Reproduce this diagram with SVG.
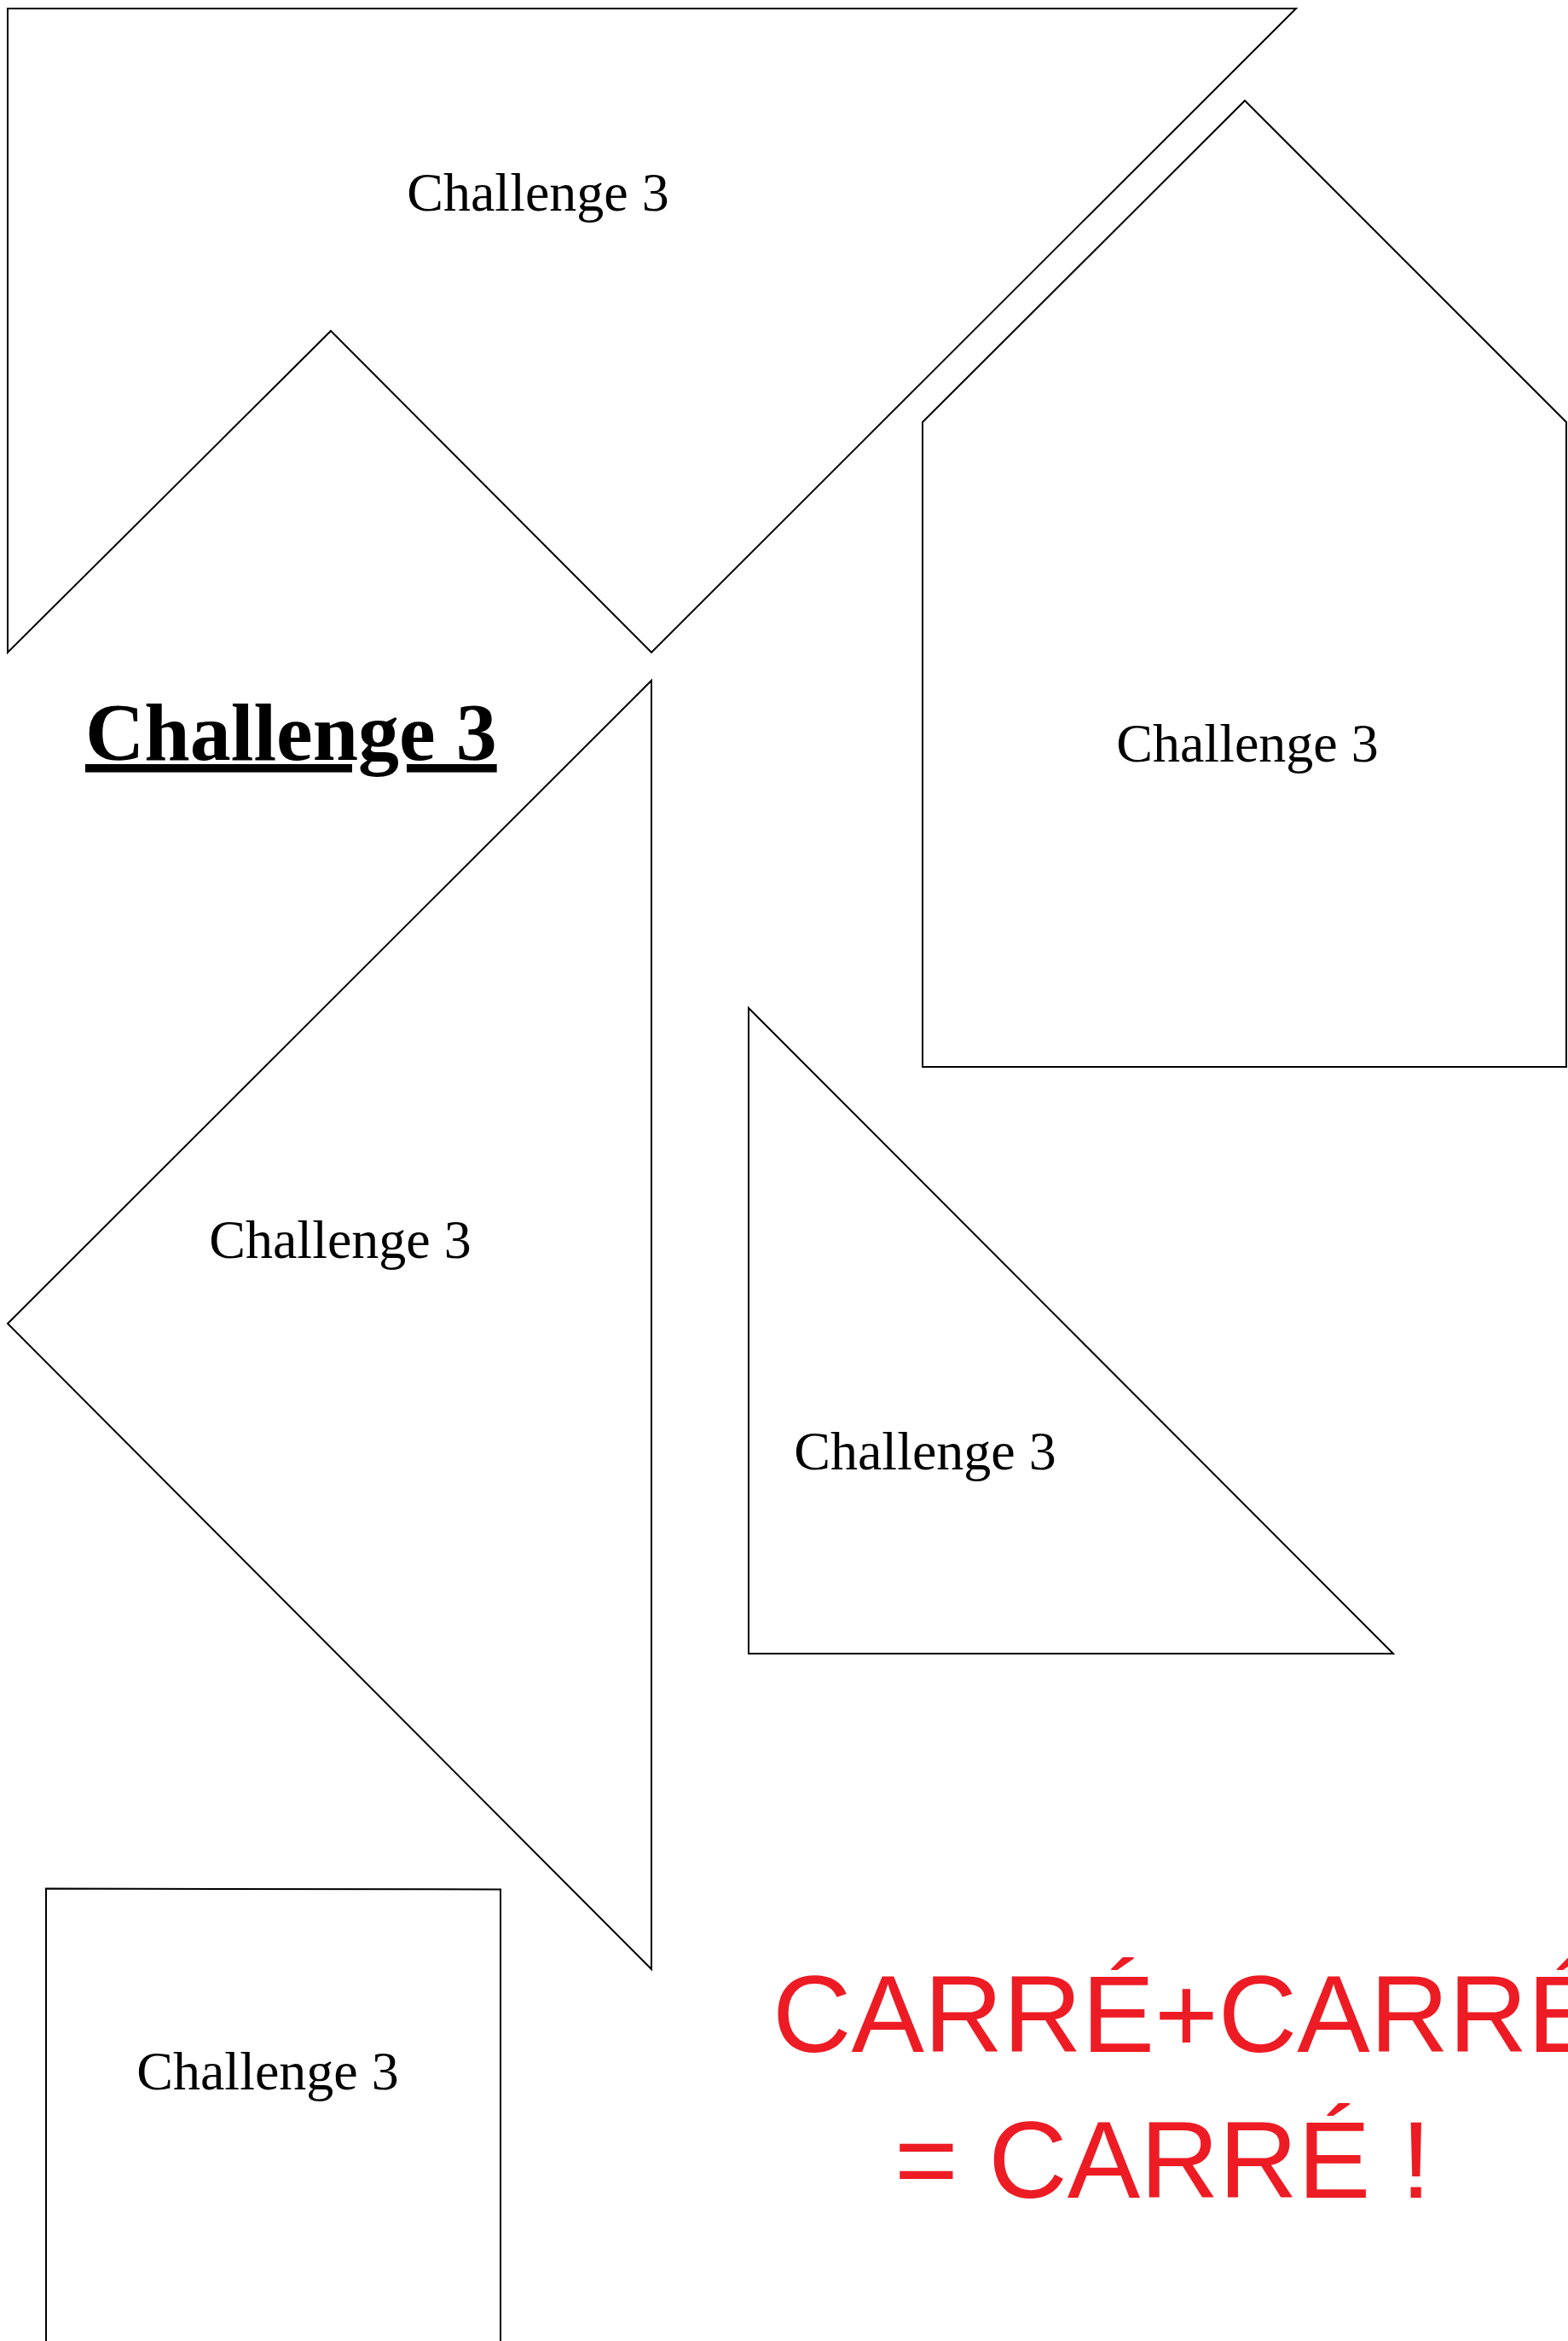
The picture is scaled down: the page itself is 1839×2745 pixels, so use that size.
<svg xmlns="http://www.w3.org/2000/svg" width="1839" height="2745" viewBox="0 0 1839 2745">
<style>
.shape{fill:#ffffff;stroke:#000000;stroke-width:2;stroke-linejoin:miter}
.lbl{font-family:"Liberation Serif","Times New Roman",serif;font-size:64px;fill:#000000;text-anchor:middle}
.title{font-family:"Liberation Serif","Times New Roman",serif;font-size:96px;font-weight:bold;fill:#000000;text-decoration:underline}
.red{font-family:"Liberation Sans",Arial,sans-serif;font-size:128px;fill:#ED1C24}
</style>
<rect x="0" y="0" width="1839" height="2745" fill="#ffffff"/>
<g id="piece-top">
<polygon class="shape" points="9,10 1520,10 764,765 388,388 9,765"/>
<text class="lbl" x="631" y="247">Challenge 3</text>
</g>
<g id="piece-house">
<polygon class="shape" points="1460,118 1837,495 1837,1251 1082,1251 1082,495"/>
<text class="lbl" x="1463" y="893">Challenge 3</text>
</g>
<g id="piece-big-triangle">
<polygon class="shape" points="764,798 764,2309 9,1552"/>
<text class="lbl" x="399" y="1475">Challenge 3</text>
</g>
<g id="piece-triangle">
<polygon class="shape" points="878,1182 1634,1939 878,1939"/>
<text class="lbl" x="1085" y="1723">Challenge 3</text>
</g>
<g id="piece-rect">
<polygon class="shape" points="54,2214.5 587,2215.5 587,2800 54,2800"/>
<text class="lbl" x="314" y="2450">Challenge 3</text>
</g>
<g id="title">
<text class="title" x="100" y="891">Challenge 3</text>
</g>
<g id="slogan">
<text class="red" x="906" y="2406">CARRÉ+CARRÉ</text>
<text class="red" x="1049" y="2577">= CARRÉ !</text>
</g>
<g id="connectors"></g>
</svg>
